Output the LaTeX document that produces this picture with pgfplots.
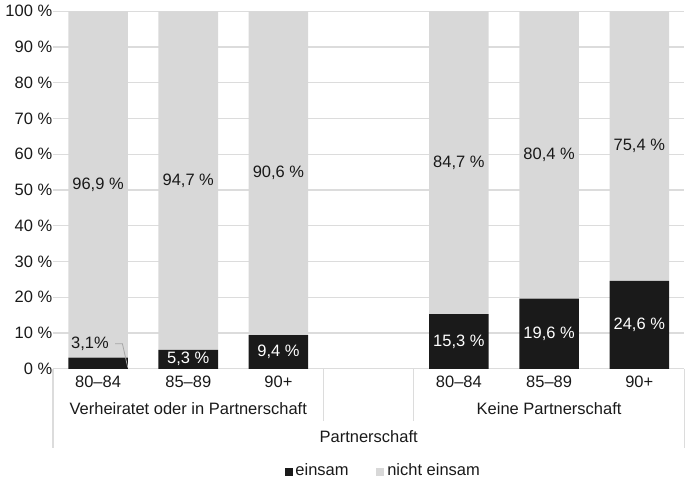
\documentclass[border=0pt]{standalone}
\usepackage{fontspec}
\setmainfont{Liberation Sans}
\usepackage{pgfplots}
\pgfplotsset{compat=1.18}
\definecolor{barblack}{RGB}{26,26,26}
\definecolor{bargray}{RGB}{216,216,216}
\definecolor{gridgray}{RGB}{220,220,220}
\newcommand{\chartfont}{\fontsize{16.6bp}{19bp}\selectfont}

\begin{document}
\chartfont
\begin{tikzpicture}
% bars, grid, ticks and legend
\begin{axis}[
  scale only axis, width=636bp, height=360bp,
  xmin=-0.5, xmax=6.5, ymin=0, ymax=100,
  ybar stacked, bar width=0.66,
  axis x line*=bottom, axis y line*=left,
  x axis line style={gridgray, line width=1.2bp, -},
  y axis line style={draw=none},
  ytick={0,10,...,100},
  yticklabel={\pgfmathprintnumber{\tick}~\%},
  /pgf/number format/assume math mode=true,
  ymajorgrids, grid style={gridgray, line width=1.2bp},
  major tick length=0pt,
  xtick={0,1,2,4,5,6},
  xticklabels={80--84,85--89,90+,80--84,85--89,90+},
  tick label style={font=\chartfont, text=black!90},
  xticklabel style={yshift=-2bp},
  yticklabel style={xshift=5bp},
  clip=false,
  legend columns=2,
  legend style={draw=none, fill=none, font=\chartfont, text=black!90,
    at={(0.523,-0.285)}, anchor=center,
    /tikz/every odd column/.append style={column sep=1bp},
    /tikz/every even column/.append style={column sep=26bp}},
]
\addplot[fill=barblack, draw=none,
  legend image code/.code={\fill[barblack] (0bp,-5.5bp) rectangle (8bp,2.5bp);}]
  table[x=x, y=y] {
x y
0 3.1
1 5.3
2 9.4
4 15.3
5 19.6
6 24.6
};
\addplot[fill=bargray, draw=none,
  legend image code/.code={\fill[bargray] (0bp,-5.5bp) rectangle (8bp,2.5bp);}]
  table[x=x, y=y] {
x y
0 96.9
1 94.7
2 90.6
4 84.7
5 80.4
6 75.4
};
\legend{einsam, nicht einsam}
\end{axis}

% value labels, group labels and separators
\begin{axis}[
  scale only axis, width=636bp, height=360bp,
  xmin=-0.5, xmax=6.5, ymin=0, ymax=100,
  hide axis, clip=false,
]
\addplot[only marks, mark=none, nodes near coords, point meta=explicit symbolic,
  every node near coord/.style={anchor=center, font=\chartfont, text=black!90}]
  table[x=x, y=y, meta=label] {
x y label
-0.09 7.0 {3,1\%}
0 51.55 {96,9 \%}
1 52.65 {94,7 \%}
2 54.7 {90,6 \%}
4 57.65 {84,7 \%}
5 59.8 {80,4 \%}
6 62.3 {75,4 \%}
};
\addplot[only marks, mark=none, nodes near coords, point meta=explicit symbolic,
  every node near coord/.style={anchor=center, font=\chartfont, text=white}]
  table[x=x, y=y, meta=label] {
x y label
1 2.65 {5,3 \%}
2 4.7 {9,4 \%}
4 7.65 {15,3 \%}
5 9.8 {19,6 \%}
6 12.3 {24,6 \%}
};
\draw[gray!70, line width=0.8bp] (axis cs:0.19,7.0) -- (axis cs:0.27,7.0) -- (axis cs:0.33,0.3);
\draw[gridgray, line width=1.2bp] (axis cs:-0.5,0) -- ([yshift=-80bp]axis cs:-0.5,0);
\draw[gridgray, line width=1.2bp] (axis cs:2.5,0) -- ([yshift=-53bp]axis cs:2.5,0);
\draw[gridgray, line width=1.2bp] (axis cs:3.5,0) -- ([yshift=-53bp]axis cs:3.5,0);
\draw[gridgray, line width=1.2bp] (axis cs:6.5,0) -- ([yshift=-80bp]axis cs:6.5,0);
\node[font=\chartfont, text=black!90] at ([yshift=-40bp]axis cs:1,0) {Verheiratet oder in Partnerschaft};
\node[font=\chartfont, text=black!90] at ([yshift=-40bp]axis cs:5,0) {Keine Partnerschaft};
\node[font=\chartfont, text=black!90] at ([yshift=-68bp]axis cs:3,0) {Partnerschaft};
\end{axis}
\end{tikzpicture}
\end{document}
